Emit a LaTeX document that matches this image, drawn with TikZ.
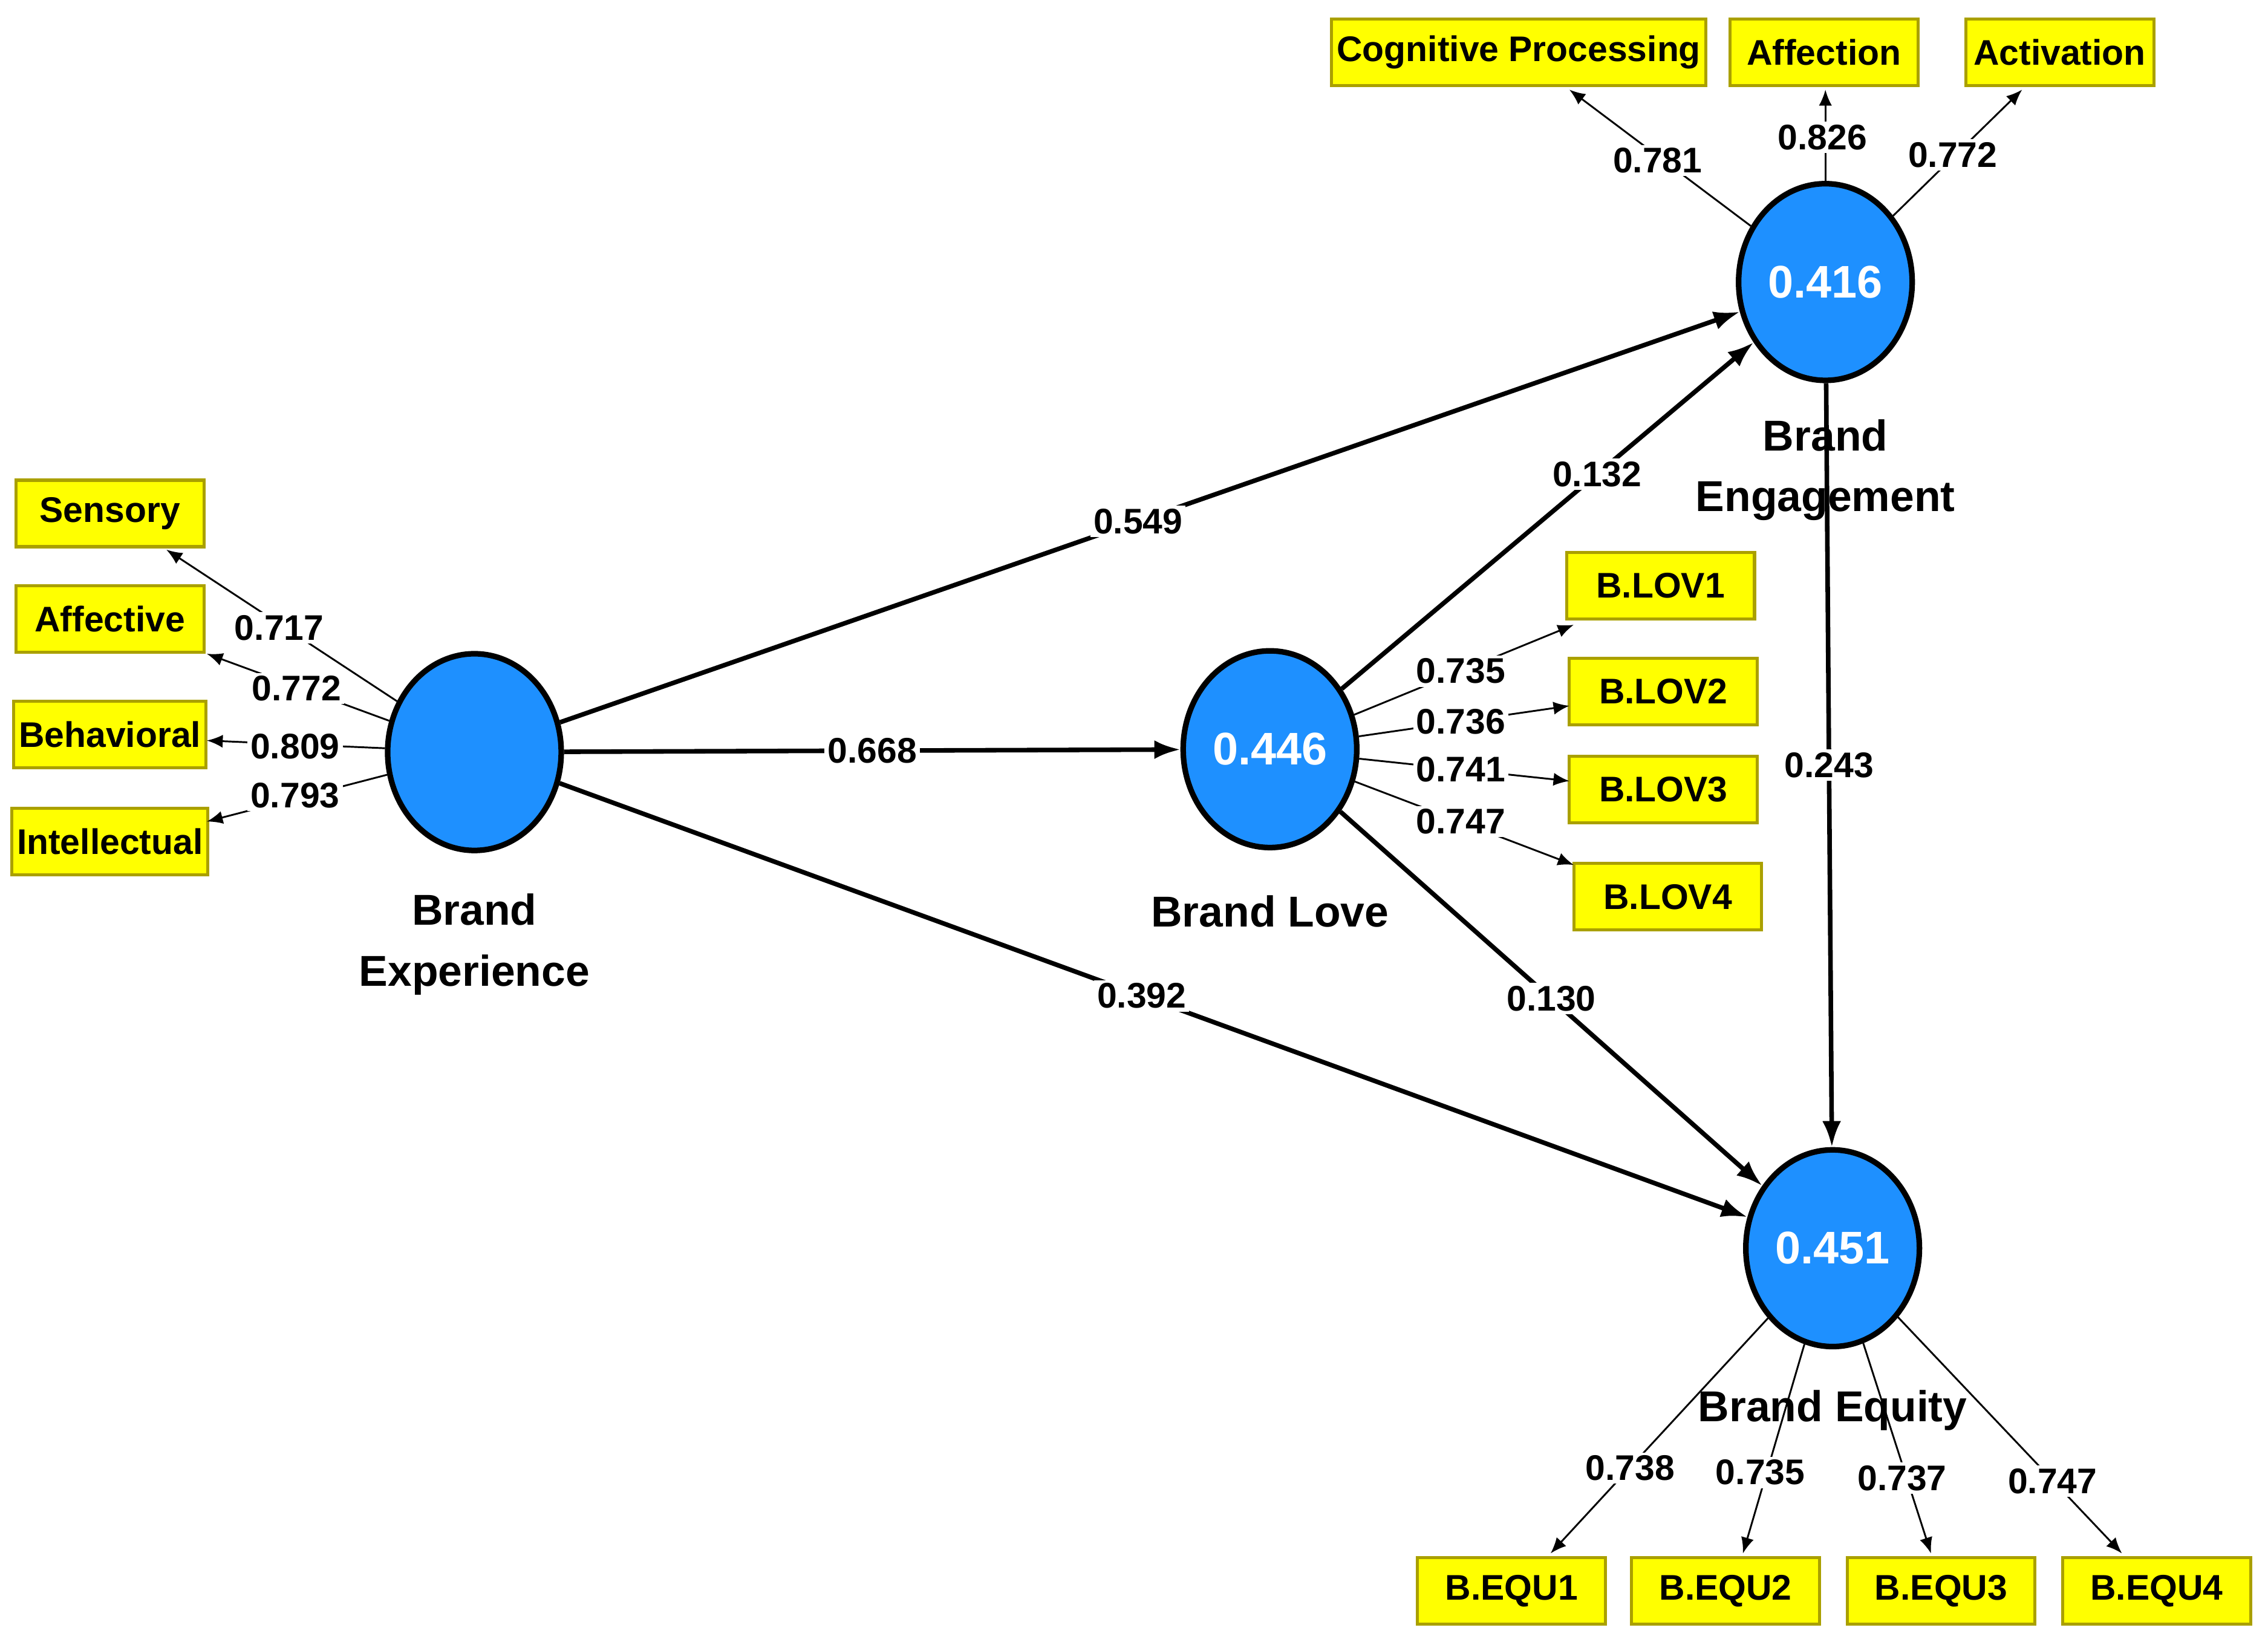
\documentclass[tikz,border=0pt]{standalone}
\usepackage{fontspec}
\setmainfont{Liberation Sans}
\usetikzlibrary{arrows.meta,shapes.geometric}
\definecolor{cblue}{RGB}{30,144,255}
\definecolor{ybox}{RGB}{255,255,0}
\definecolor{yedge}{RGB}{170,160,0}
\begin{document}
\begin{tikzpicture}[x=0.1mm,y=-0.1mm,
  lv/.style={ellipse,draw=black,line width=1.1pt,fill=cblue,minimum width=12mm,minimum height=13.6mm,inner sep=0pt,text=white,font=\fontsize{9}{10}\selectfont\bfseries},
  ind/.style={draw=yedge,line width=0.6pt,fill=ybox,minimum width=13mm,minimum height=4.6mm,inner sep=1pt,font=\fontsize{7}{8}\selectfont\bfseries},
  lvcap/.style={align=center,font=\fontsize{8.5}{12}\selectfont\bfseries},
  lab/.style={fill=white,inner sep=0.6pt,font=\fontsize{7}{8}\selectfont\bfseries},
  spath/.style={line width=0.9pt,-{Latex[length=1.8mm,width=1.3mm]}},
  load/.style={line width=0.35pt,-{Latex[length=1.1mm,width=0.9mm]}}]
\useasboundingbox (0,0) rectangle (1568,1137);
% latent variables
\node[lv] (BE) at (328,520) {};
\node[lv] (BL) at (878,518) {0.446};
\node[lv] (BG) at (1262,195) {0.416};
\node[lv] (BQ) at (1267,863) {0.451};
\node[lvcap] (cBE) at (328,653) {Brand\\Experience};
\node[lvcap] (cBL) at (878,630) {Brand Love};
\node[lvcap] (cBG) at (1262,325) {Brand\\Engagement};
\node[lvcap] (cBQ) at (1267,975) {Brand Equity};
% indicators
\node[ind] (s1) at (76,355) {Sensory};
\node[ind] (s2) at (76,428) {Affective};
\node[ind] (s3) at (76,508) {Behavioral};
\node[ind] (s4) at (76,582) {Intellectual};
\node[ind,minimum width=23.2mm] (g1) at (1050,36) {Cognitive Processing};
\node[ind] (g2) at (1261,36) {Affection};
\node[ind] (g3) at (1424,36) {Activation};
\node[ind] (l1) at (1148,405) {B.LOV1};
\node[ind] (l2) at (1150,478) {B.LOV2};
\node[ind] (l3) at (1150,546) {B.LOV3};
\node[ind] (l4) at (1153,620) {B.LOV4};
\node[ind] (q1) at (1045,1100) {B.EQU1};
\node[ind] (q2) at (1193,1100) {B.EQU2};
\node[ind] (q3) at (1342,1100) {B.EQU3};
\node[ind] (q4) at (1491,1100) {B.EQU4};
% tips
\coordinate (ts1) at (115,380); \coordinate (ts2) at (143,452);
\coordinate (ts3) at (143,512); \coordinate (ts4) at (143,568);
\coordinate (tg1) at (1085,62); \coordinate (tg2) at (1262,62); \coordinate (tg3) at (1398,62);
\coordinate (tl1) at (1088,432); \coordinate (tl2) at (1085,488);
\coordinate (tl3) at (1085,540); \coordinate (tl4) at (1088,598);
\coordinate (tq1) at (1072,1074); \coordinate (tq2) at (1205,1074);
\coordinate (tq3) at (1335,1074); \coordinate (tq4) at (1467,1074);
% loadings
\foreach \a/\t in {BE/ts1,BE/ts2,BE/ts3,BE/ts4,BG/tg1,BG/tg2,BG/tg3,BL/tl1,BL/tl2,BL/tl3,BL/tl4,BQ/tq1,BQ/tq2,BQ/tq3,BQ/tq4}
  \draw[load] (\a) -- (\t);
\node[lab] at (193,434) {0.717};
\node[lab] at (205,476) {0.772};
\node[lab] at (204,516) {0.809};
\node[lab] at (204,550) {0.793};
\node[lab] at (1146,111) {0.781};
\node[lab] at (1260,95) {0.826};
\node[lab] at (1350,107) {0.772};
\node[lab] at (1010,464) {0.735};
\node[lab] at (1010,499) {0.736};
\node[lab] at (1010,532) {0.741};
\node[lab] at (1010,568) {0.747};
\node[lab] at (1127,1015) {0.738};
\node[lab] at (1217,1018) {0.735};
\node[lab] at (1315,1022) {0.737};
\node[lab] at (1419,1024) {0.747};
% structural paths
\draw[spath] (BE) -- (BG) node[lab,pos=0.49] {0.549};
\draw[spath] (BE) -- (BL) node[lab,pos=0.5] {0.668};
\draw[spath] (BE) -- (BQ) node[lab,pos=0.49] {0.392};
\draw[spath] (BL) -- (BG) node[lab,pos=0.62] {0.132};
\draw[spath] (BL) -- (BQ) node[lab,pos=0.5] {0.130};
\draw[spath] (BG) -- (BQ) node[lab,pos=0.5] {0.243};
\end{tikzpicture}
\end{document}
